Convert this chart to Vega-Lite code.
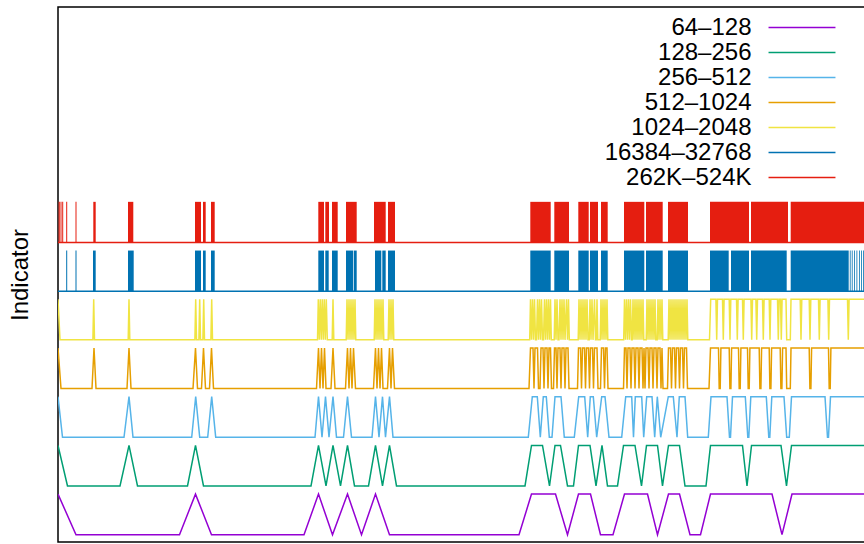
{
"$schema": "https://vega.github.io/schema/vega-lite/v6.json",
"width": 864, "height": 544,
"autosize": {"type": "fit", "contains": "padding"},
"padding": {"left": 8, "top": 7, "right": -2, "bottom": 2},
"background": "white",
"config": {"view": {"stroke": "black", "strokeWidth": 1.5}, "font": "Liberation Sans"},
"datasets": {
"B": [
{"k":6,"a":58.6,"b":59.8,"lo":7.2,"hi":8.2},{"k":6,"a":60.5,"b":61.5,"lo":7.2,"hi":8.2},{"k":6,"a":62.2,"b":63.2,"lo":7.2,"hi":8.2},{"k":6,"a":66.2,"b":67.2,"lo":7.2,"hi":8.2},{"k":6,"a":75.5,"b":76.5,"lo":7.2,"hi":8.2},{"k":6,"a":93.3,"b":95.7,"lo":7.2,"hi":8.2},{"k":6,"a":128,"b":133.3,"lo":7.2,"hi":8.2},{"k":6,"a":195,"b":201,"lo":7.2,"hi":8.2},{"k":6,"a":203,"b":205.7,"lo":7.2,"hi":8.2},{"k":6,"a":211,"b":214.7,"lo":7.2,"hi":8.2},{"k":6,"a":318.3,"b":324,"lo":7.2,"hi":8.2},{"k":6,"a":325.3,"b":329,"lo":7.2,"hi":8.2},{"k":6,"a":332,"b":337.7,"lo":7.2,"hi":8.2},{"k":6,"a":346,"b":356.7,"lo":7.2,"hi":8.2},{"k":6,"a":374,"b":385.7,"lo":7.2,"hi":8.2},{"k":6,"a":388,"b":395,"lo":7.2,"hi":8.2},{"k":6,"a":530.3,"b":550.7,"lo":7.2,"hi":8.2},{"k":6,"a":554.3,"b":569,"lo":7.2,"hi":8.2},{"k":6,"a":578.3,"b":588.7,"lo":7.2,"hi":8.2},{"k":6,"a":590,"b":598,"lo":7.2,"hi":8.2},{"k":6,"a":601,"b":607.7,"lo":7.2,"hi":8.2},{"k":6,"a":624,"b":644.3,"lo":7.2,"hi":8.2},{"k":6,"a":646,"b":662.7,"lo":7.2,"hi":8.2},{"k":6,"a":668,"b":688,"lo":7.2,"hi":8.2},{"k":6,"a":710,"b":749,"lo":7.2,"hi":8.2},{"k":6,"a":751,"b":788,"lo":7.2,"hi":8.2},{"k":6,"a":790.7,"b":866,"lo":7.2,"hi":8.2},
{"k":5,"a":66.2,"b":67.2,"lo":6.0,"hi":7.0},{"k":5,"a":75.5,"b":76.5,"lo":6.0,"hi":7.0},{"k":5,"a":93,"b":95.7,"lo":6.0,"hi":7.0},{"k":5,"a":128,"b":133.7,"lo":6.0,"hi":7.0},{"k":5,"a":195,"b":201,"lo":6.0,"hi":7.0},{"k":5,"a":203,"b":205.7,"lo":6.0,"hi":7.0},{"k":5,"a":211,"b":214.7,"lo":6.0,"hi":7.0},{"k":5,"a":318.3,"b":324,"lo":6.0,"hi":7.0},{"k":5,"a":325.3,"b":328.7,"lo":6.0,"hi":7.0},{"k":5,"a":332,"b":337.7,"lo":6.0,"hi":7.0},{"k":5,"a":346,"b":353.3,"lo":6.0,"hi":7.0},{"k":5,"a":354,"b":356.7,"lo":6.0,"hi":7.0},{"k":5,"a":375,"b":381.3,"lo":6.0,"hi":7.0},{"k":5,"a":382.3,"b":385.7,"lo":6.0,"hi":7.0},{"k":5,"a":388,"b":395,"lo":6.0,"hi":7.0},{"k":5,"a":530.3,"b":550.7,"lo":6.0,"hi":7.0},{"k":5,"a":554.3,"b":569,"lo":6.0,"hi":7.0},{"k":5,"a":578.3,"b":588.7,"lo":6.0,"hi":7.0},{"k":5,"a":590,"b":598,"lo":6.0,"hi":7.0},{"k":5,"a":601,"b":607.7,"lo":6.0,"hi":7.0},{"k":5,"a":624,"b":644.3,"lo":6.0,"hi":7.0},{"k":5,"a":646,"b":662.7,"lo":6.0,"hi":7.0},{"k":5,"a":668,"b":688,"lo":6.0,"hi":7.0},{"k":5,"a":710,"b":728.7,"lo":6.0,"hi":7.0},{"k":5,"a":731,"b":749,"lo":6.0,"hi":7.0},{"k":5,"a":751,"b":786.7,"lo":6.0,"hi":7.0},{"k":5,"a":790.7,"b":848.7,"lo":6.0,"hi":7.0},{"k":5,"a":849.8,"b":850.6,"lo":6.0,"hi":7.0},{"k":5,"a":851.8,"b":852.6,"lo":6.0,"hi":7.0},{"k":5,"a":854,"b":854.8,"lo":6.0,"hi":7.0},{"k":5,"a":856.5,"b":857.3,"lo":6.0,"hi":7.0},{"k":5,"a":859,"b":859.8,"lo":6.0,"hi":7.0},{"k":5,"a":861,"b":861.8,"lo":6.0,"hi":7.0},{"k":5,"a":863,"b":863.8,"lo":6.0,"hi":7.0}
],
"L": [
{"k":0,"t":58,"y":1},{"k":0,"t":76,"y":0},{"k":0,"t":179.5,"y":0},{"k":0,"t":195.5,"y":1},{"k":0,"t":211.5,"y":0},{"k":0,"t":304,"y":0},{"k":0,"t":318.5,"y":1},{"k":0,"t":332.5,"y":0},{"k":0,"t":347.5,"y":1},{"k":0,"t":361.5,"y":0},{"k":0,"t":375.5,"y":1},{"k":0,"t":389.5,"y":0},{"k":0,"t":519,"y":0},{"k":0,"t":531.5,"y":1},{"k":0,"t":555.5,"y":1},{"k":0,"t":567.5,"y":0},{"k":0,"t":578.5,"y":1},{"k":0,"t":590.5,"y":1},{"k":0,"t":600.5,"y":0},{"k":0,"t":613,"y":0},{"k":0,"t":624.5,"y":1},{"k":0,"t":647.5,"y":1},{"k":0,"t":657.5,"y":0},{"k":0,"t":668.5,"y":1},{"k":0,"t":679.5,"y":1},{"k":0,"t":690,"y":0},{"k":0,"t":700.5,"y":0},{"k":0,"t":710.5,"y":1},{"k":0,"t":772,"y":1},{"k":0,"t":782,"y":0},{"k":0,"t":792,"y":1},{"k":0,"t":866,"y":1},
{"k":1,"t":58,"y":2.2},{"k":1,"t":67.5,"y":1.2},{"k":1,"t":120,"y":1.2},{"k":1,"t":129,"y":2.2},{"k":1,"t":137.5,"y":1.2},{"k":1,"t":187.5,"y":1.2},{"k":1,"t":195.5,"y":2.2},{"k":1,"t":203.5,"y":1.2},{"k":1,"t":311,"y":1.2},{"k":1,"t":318.5,"y":2.2},{"k":1,"t":326,"y":1.2},{"k":1,"t":333,"y":2.2},{"k":1,"t":340.5,"y":1.2},{"k":1,"t":347.5,"y":2.2},{"k":1,"t":354.5,"y":1.2},{"k":1,"t":368.5,"y":1.2},{"k":1,"t":375.5,"y":2.2},{"k":1,"t":382.5,"y":1.2},{"k":1,"t":389.5,"y":2.2},{"k":1,"t":396.5,"y":1.2},{"k":1,"t":525,"y":1.2},{"k":1,"t":531.5,"y":2.2},{"k":1,"t":542.5,"y":2.2},{"k":1,"t":549.5,"y":1.2},{"k":1,"t":555,"y":2.2},{"k":1,"t":560.5,"y":2.2},{"k":1,"t":567.5,"y":1.2},{"k":1,"t":573.5,"y":1.2},{"k":1,"t":578.5,"y":2.2},{"k":1,"t":590,"y":2.2},{"k":1,"t":596,"y":1.2},{"k":1,"t":602,"y":2.2},{"k":1,"t":607.5,"y":1.2},{"k":1,"t":617.5,"y":1.2},{"k":1,"t":623.5,"y":2.2},{"k":1,"t":635,"y":2.2},{"k":1,"t":641.5,"y":1.2},{"k":1,"t":646.5,"y":2.2},{"k":1,"t":657.5,"y":2.2},{"k":1,"t":662.5,"y":1.2},{"k":1,"t":668.5,"y":2.2},{"k":1,"t":679.5,"y":2.2},{"k":1,"t":685,"y":1.2},{"k":1,"t":706,"y":1.2},{"k":1,"t":710.5,"y":2.2},{"k":1,"t":742.5,"y":2.2},{"k":1,"t":747,"y":1.2},{"k":1,"t":751.5,"y":2.2},{"k":1,"t":781,"y":2.2},{"k":1,"t":786.5,"y":1.2},{"k":1,"t":791.5,"y":2.2},{"k":1,"t":866,"y":2.2},
{"k":2,"t":58,"y":3.4},{"k":2,"t":62.5,"y":2.4},{"k":2,"t":124,"y":2.4},{"k":2,"t":129,"y":3.4},{"k":2,"t":133,"y":2.4},{"k":2,"t":191.7,"y":2.4},{"k":2,"t":195.7,"y":3.4},{"k":2,"t":199.7,"y":2.4},{"k":2,"t":207.7,"y":2.4},{"k":2,"t":211.7,"y":3.4},{"k":2,"t":215.7,"y":2.4},{"k":2,"t":315,"y":2.4},{"k":2,"t":318.5,"y":3.4},{"k":2,"t":322,"y":2.4},{"k":2,"t":325.5,"y":3.4},{"k":2,"t":329,"y":2.4},{"k":2,"t":333,"y":3.4},{"k":2,"t":336.5,"y":2.4},{"k":2,"t":343.5,"y":2.4},{"k":2,"t":347.5,"y":3.4},{"k":2,"t":351.5,"y":2.4},{"k":2,"t":372,"y":2.4},{"k":2,"t":375.5,"y":3.4},{"k":2,"t":379,"y":2.4},{"k":2,"t":382.5,"y":3.4},{"k":2,"t":385.5,"y":2.4},{"k":2,"t":389.5,"y":3.4},{"k":2,"t":393,"y":2.4},{"k":2,"t":528.3,"y":2.4},{"k":2,"t":532.3,"y":3.4},{"k":2,"t":537.3,"y":3.4},{"k":2,"t":540.3,"y":2.4},{"k":2,"t":543.3,"y":3.4},{"k":2,"t":546.3,"y":3.4},{"k":2,"t":549.3,"y":2.4},{"k":2,"t":552,"y":2.4},{"k":2,"t":555,"y":3.4},{"k":2,"t":561,"y":3.4},{"k":2,"t":564.3,"y":2.4},{"k":2,"t":574.3,"y":2.4},{"k":2,"t":578.7,"y":3.4},{"k":2,"t":584.7,"y":3.4},{"k":2,"t":587.7,"y":2.4},{"k":2,"t":590.3,"y":3.4},{"k":2,"t":593.3,"y":3.4},{"k":2,"t":596.7,"y":2.4},{"k":2,"t":601.7,"y":3.4},{"k":2,"t":605,"y":3.4},{"k":2,"t":609,"y":2.4},{"k":2,"t":621.7,"y":2.4},{"k":2,"t":625.7,"y":3.4},{"k":2,"t":631.7,"y":3.4},{"k":2,"t":633.5,"y":2.4},{"k":2,"t":635.3,"y":3.4},{"k":2,"t":641.7,"y":3.4},{"k":2,"t":643.7,"y":2.4},{"k":2,"t":646.7,"y":3.4},{"k":2,"t":652,"y":3.4},{"k":2,"t":654.7,"y":2.4},{"k":2,"t":657.3,"y":3.4},{"k":2,"t":660.7,"y":2.4},{"k":2,"t":668.3,"y":3.4},{"k":2,"t":673.3,"y":3.4},{"k":2,"t":677,"y":2.4},{"k":2,"t":679.3,"y":3.4},{"k":2,"t":685,"y":3.4},{"k":2,"t":687.7,"y":2.4},{"k":2,"t":708.3,"y":2.4},{"k":2,"t":711,"y":3.4},{"k":2,"t":727,"y":3.4},{"k":2,"t":729.5,"y":2.4},{"k":2,"t":730.5,"y":2.4},{"k":2,"t":732.5,"y":3.4},{"k":2,"t":745.3,"y":3.4},{"k":2,"t":747.8,"y":2.4},{"k":2,"t":748.8,"y":2.4},{"k":2,"t":750.8,"y":3.4},{"k":2,"t":766.3,"y":3.4},{"k":2,"t":768.8,"y":2.4},{"k":2,"t":769.8,"y":2.4},{"k":2,"t":771.8,"y":3.4},{"k":2,"t":784,"y":3.4},{"k":2,"t":786.7,"y":2.4},{"k":2,"t":789.3,"y":2.4},{"k":2,"t":791.5,"y":3.4},{"k":2,"t":825,"y":3.4},{"k":2,"t":827.5,"y":2.4},{"k":2,"t":828.5,"y":2.4},{"k":2,"t":830.5,"y":3.4},{"k":2,"t":866,"y":3.4},
{"k":3,"t":58,"y":4.6},{"k":3,"t":61,"y":3.6},{"k":3,"t":92,"y":3.6},{"k":3,"t":94,"y":4.6},{"k":3,"t":96,"y":3.6},{"k":3,"t":127,"y":3.6},{"k":3,"t":129,"y":4.6},{"k":3,"t":131,"y":3.6},{"k":3,"t":193,"y":3.6},{"k":3,"t":195.5,"y":4.6},{"k":3,"t":197.5,"y":3.6},{"k":3,"t":201.5,"y":3.6},{"k":3,"t":203.5,"y":4.6},{"k":3,"t":205.5,"y":3.6},{"k":3,"t":209.5,"y":3.6},{"k":3,"t":211.5,"y":4.6},{"k":3,"t":213.5,"y":3.6},{"k":3,"t":316.5,"y":3.6},{"k":3,"t":318.5,"y":4.6},{"k":3,"t":320,"y":3.6},{"k":3,"t":321.5,"y":4.6},{"k":3,"t":323,"y":3.6},{"k":3,"t":324.5,"y":4.6},{"k":3,"t":326,"y":3.6},{"k":3,"t":331,"y":3.6},{"k":3,"t":333,"y":4.6},{"k":3,"t":335,"y":3.6},{"k":3,"t":345.5,"y":3.6},{"k":3,"t":347.5,"y":4.6},{"k":3,"t":349,"y":3.6},{"k":3,"t":350.5,"y":4.6},{"k":3,"t":352,"y":3.6},{"k":3,"t":353.5,"y":4.6},{"k":3,"t":355.5,"y":3.6},{"k":3,"t":373.5,"y":3.6},{"k":3,"t":375.5,"y":4.6},{"k":3,"t":377,"y":3.6},{"k":3,"t":378.5,"y":4.6},{"k":3,"t":380,"y":3.6},{"k":3,"t":381.5,"y":4.6},{"k":3,"t":383,"y":3.6},{"k":3,"t":387.5,"y":3.6},{"k":3,"t":389.5,"y":4.6},{"k":3,"t":391,"y":3.6},{"k":3,"t":392.5,"y":4.6},{"k":3,"t":394.5,"y":3.6},
{"k":3,"t":529,"y":3.6},{"k":3,"t":530.5,"y":4.6},{"k":3,"t":533,"y":4.6},{"k":3,"t":534,"y":3.6},{"k":3,"t":535,"y":4.6},{"k":3,"t":537.5,"y":4.6},{"k":3,"t":538.5,"y":3.6},{"k":3,"t":540,"y":3.6},{"k":3,"t":541,"y":4.6},{"k":3,"t":543,"y":4.6},{"k":3,"t":544,"y":3.6},{"k":3,"t":545,"y":4.6},{"k":3,"t":547,"y":4.6},{"k":3,"t":548,"y":3.6},{"k":3,"t":549,"y":4.6},{"k":3,"t":550.5,"y":4.6},{"k":3,"t":551.5,"y":3.6},{"k":3,"t":553.5,"y":3.6},{"k":3,"t":554.5,"y":4.6},{"k":3,"t":556,"y":4.6},{"k":3,"t":557,"y":3.6},{"k":3,"t":558,"y":4.6},{"k":3,"t":560,"y":4.6},{"k":3,"t":561,"y":3.6},{"k":3,"t":562,"y":4.6},{"k":3,"t":564,"y":4.6},{"k":3,"t":565,"y":3.6},{"k":3,"t":566,"y":4.6},{"k":3,"t":568,"y":4.6},{"k":3,"t":569,"y":3.6},{"k":3,"t":577.5,"y":3.6},{"k":3,"t":578.5,"y":4.6},{"k":3,"t":580.5,"y":4.6},{"k":3,"t":581.5,"y":3.6},{"k":3,"t":582.5,"y":4.6},{"k":3,"t":584.5,"y":4.6},{"k":3,"t":585.5,"y":3.6},{"k":3,"t":586.5,"y":4.6},{"k":3,"t":588.5,"y":4.6},{"k":3,"t":589.5,"y":3.6},{"k":3,"t":590.5,"y":4.6},{"k":3,"t":592.5,"y":4.6},{"k":3,"t":593.5,"y":3.6},{"k":3,"t":594.5,"y":4.6},{"k":3,"t":597,"y":4.6},{"k":3,"t":598,"y":3.6},{"k":3,"t":600.5,"y":3.6},{"k":3,"t":601.5,"y":4.6},{"k":3,"t":603.5,"y":4.6},{"k":3,"t":604.5,"y":3.6},{"k":3,"t":605.5,"y":4.6},{"k":3,"t":607,"y":4.6},{"k":3,"t":608,"y":3.6},{"k":3,"t":623.5,"y":3.6},{"k":3,"t":624.5,"y":4.6},{"k":3,"t":626,"y":4.6},{"k":3,"t":627,"y":3.6},{"k":3,"t":628,"y":4.6},{"k":3,"t":630,"y":4.6},{"k":3,"t":631,"y":3.6},{"k":3,"t":632,"y":4.6},{"k":3,"t":634,"y":4.6},{"k":3,"t":635,"y":3.6},{"k":3,"t":636,"y":4.6},{"k":3,"t":638,"y":4.6},{"k":3,"t":639,"y":3.6},{"k":3,"t":640,"y":4.6},{"k":3,"t":642,"y":4.6},{"k":3,"t":643,"y":3.6},{"k":3,"t":644,"y":4.6},{"k":3,"t":645,"y":3.6},{"k":3,"t":646,"y":4.6},{"k":3,"t":648,"y":4.6},{"k":3,"t":649,"y":3.6},{"k":3,"t":650,"y":4.6},{"k":3,"t":652,"y":4.6},{"k":3,"t":653,"y":3.6},{"k":3,"t":654,"y":4.6},{"k":3,"t":656,"y":4.6},{"k":3,"t":657,"y":3.6},{"k":3,"t":658,"y":4.6},{"k":3,"t":660,"y":4.6},{"k":3,"t":661,"y":3.6},{"k":3,"t":662,"y":4.6},{"k":3,"t":663,"y":3.6},{"k":3,"t":667.5,"y":3.6},{"k":3,"t":668.5,"y":4.6},{"k":3,"t":670.5,"y":4.6},{"k":3,"t":671.5,"y":3.6},{"k":3,"t":672.5,"y":4.6},{"k":3,"t":674.5,"y":4.6},{"k":3,"t":675.5,"y":3.6},{"k":3,"t":676.5,"y":4.6},{"k":3,"t":678.5,"y":4.6},{"k":3,"t":679.5,"y":3.6},{"k":3,"t":680.5,"y":4.6},{"k":3,"t":682.5,"y":4.6},{"k":3,"t":683.5,"y":3.6},{"k":3,"t":684.5,"y":4.6},{"k":3,"t":686.5,"y":4.6},{"k":3,"t":687.5,"y":3.6},
{"k":3,"t":709,"y":3.6},{"k":3,"t":710.5,"y":4.6},{"k":3,"t":718.5,"y":4.6},{"k":3,"t":719.2,"y":3.6},{"k":3,"t":720.2,"y":3.6},{"k":3,"t":720.9,"y":4.6},{"k":3,"t":729.2,"y":4.6},{"k":3,"t":729.9,"y":3.6},{"k":3,"t":730.9,"y":3.6},{"k":3,"t":731.6,"y":4.6},{"k":3,"t":738.5,"y":4.6},{"k":3,"t":739.2,"y":3.6},{"k":3,"t":740.2,"y":3.6},{"k":3,"t":740.9,"y":4.6},{"k":3,"t":747.5,"y":4.6},{"k":3,"t":748.2,"y":3.6},{"k":3,"t":749.2,"y":3.6},{"k":3,"t":749.9,"y":4.6},{"k":3,"t":759.2,"y":4.6},{"k":3,"t":759.9,"y":3.6},{"k":3,"t":760.9,"y":3.6},{"k":3,"t":761.6,"y":4.6},{"k":3,"t":769.2,"y":4.6},{"k":3,"t":769.9,"y":3.6},{"k":3,"t":770.9,"y":3.6},{"k":3,"t":771.6,"y":4.6},{"k":3,"t":780.2,"y":4.6},{"k":3,"t":780.9,"y":3.6},{"k":3,"t":781.9,"y":3.6},{"k":3,"t":782.6,"y":4.6},{"k":3,"t":786,"y":4.6},{"k":3,"t":786.7,"y":3.6},{"k":3,"t":790.3,"y":3.6},{"k":3,"t":791,"y":4.6},{"k":3,"t":809.2,"y":4.6},{"k":3,"t":809.9,"y":3.6},{"k":3,"t":810.9,"y":3.6},{"k":3,"t":811.6,"y":4.6},{"k":3,"t":828.5,"y":4.6},{"k":3,"t":829.2,"y":3.6},{"k":3,"t":830.2,"y":3.6},{"k":3,"t":830.9,"y":4.6},{"k":3,"t":866,"y":4.6},
{"k":4,"t":58,"y":5.8},{"k":4,"t":60,"y":4.8},{"k":4,"t":92.9,"y":4.8},{"k":4,"t":93.7,"y":5.8},{"k":4,"t":94.5,"y":4.8},{"k":4,"t":128.2,"y":4.8},{"k":4,"t":129,"y":5.8},{"k":4,"t":129.8,"y":4.8},{"k":4,"t":194.9,"y":4.8},{"k":4,"t":195.7,"y":5.8},{"k":4,"t":196.5,"y":4.8},{"k":4,"t":198.9,"y":4.8},{"k":4,"t":199.7,"y":5.8},{"k":4,"t":200.5,"y":4.8},{"k":4,"t":202.9,"y":4.8},{"k":4,"t":203.7,"y":5.8},{"k":4,"t":204.5,"y":4.8},{"k":4,"t":210.9,"y":4.8},{"k":4,"t":211.7,"y":5.8},{"k":4,"t":212.5,"y":4.8},
{"k":4,"t":317.5,"y":4.8},{"k":4,"t":318.3,"y":5.8},{"k":4,"t":319.3,"y":4.8},{"k":4,"t":320.3,"y":5.8},{"k":4,"t":321.3,"y":4.8},{"k":4,"t":322.3,"y":5.8},{"k":4,"t":323.3,"y":4.8},{"k":4,"t":324.3,"y":5.8},{"k":4,"t":325.3,"y":4.8},{"k":4,"t":326.3,"y":5.8},{"k":4,"t":327.3,"y":4.8},{"k":4,"t":332.2,"y":4.8},{"k":4,"t":333,"y":5.8},{"k":4,"t":333.8,"y":4.8},{"k":4,"t":346.2,"y":4.8},{"k":4,"t":347,"y":5.8},{"k":4,"t":348,"y":4.8},{"k":4,"t":349,"y":5.8},{"k":4,"t":350,"y":4.8},{"k":4,"t":351,"y":5.8},{"k":4,"t":352,"y":4.8},{"k":4,"t":353,"y":5.8},{"k":4,"t":354,"y":4.8},{"k":4,"t":355,"y":5.8},{"k":4,"t":355.8,"y":4.8},{"k":4,"t":374.2,"y":4.8},{"k":4,"t":375,"y":5.8},{"k":4,"t":376,"y":4.8},{"k":4,"t":377,"y":5.8},{"k":4,"t":378,"y":4.8},{"k":4,"t":379,"y":5.8},{"k":4,"t":380,"y":4.8},{"k":4,"t":381,"y":5.8},{"k":4,"t":382,"y":4.8},{"k":4,"t":383,"y":5.8},{"k":4,"t":383.8,"y":4.8},{"k":4,"t":388.2,"y":4.8},{"k":4,"t":389,"y":5.8},{"k":4,"t":390,"y":4.8},{"k":4,"t":391,"y":5.8},{"k":4,"t":392,"y":4.8},{"k":4,"t":393,"y":5.8},{"k":4,"t":393.8,"y":4.8},
{"k":4,"t":529.7,"y":4.8},{"k":4,"t":530.5,"y":5.8},{"k":4,"t":531.5,"y":4.8},{"k":4,"t":532.5,"y":5.8},{"k":4,"t":533.5,"y":4.8},{"k":4,"t":534.5,"y":5.8},{"k":4,"t":535.5,"y":4.8},{"k":4,"t":536.5,"y":4.8},{"k":4,"t":537.5,"y":5.8},{"k":4,"t":538.5,"y":4.8},{"k":4,"t":539.5,"y":5.8},{"k":4,"t":540.5,"y":4.8},{"k":4,"t":541.5,"y":5.8},{"k":4,"t":542.5,"y":4.8},{"k":4,"t":543.5,"y":4.8},{"k":4,"t":544.5,"y":5.8},{"k":4,"t":545.5,"y":4.8},{"k":4,"t":546.5,"y":5.8},{"k":4,"t":547.5,"y":4.8},{"k":4,"t":548.5,"y":5.8},{"k":4,"t":549.5,"y":4.8},{"k":4,"t":550.5,"y":5.8},{"k":4,"t":551.3,"y":4.8},
{"k":4,"t":554.2,"y":4.8},{"k":4,"t":555,"y":5.8},{"k":4,"t":556,"y":4.8},{"k":4,"t":557,"y":5.8},{"k":4,"t":558,"y":4.8},{"k":4,"t":559,"y":4.8},{"k":4,"t":560,"y":5.8},{"k":4,"t":561,"y":4.8},{"k":4,"t":562,"y":5.8},{"k":4,"t":563,"y":4.8},{"k":4,"t":564,"y":5.8},{"k":4,"t":565,"y":4.8},{"k":4,"t":566.5,"y":5.8},{"k":4,"t":567.5,"y":4.8},{"k":4,"t":568.5,"y":5.8},{"k":4,"t":569.3,"y":4.8},
{"k":4,"t":578.2,"y":4.8},{"k":4,"t":579,"y":5.8},{"k":4,"t":580,"y":4.8},{"k":4,"t":581,"y":5.8},{"k":4,"t":582,"y":4.8},{"k":4,"t":583,"y":5.8},{"k":4,"t":584,"y":4.8},{"k":4,"t":585,"y":5.8},{"k":4,"t":586,"y":4.8},{"k":4,"t":587,"y":5.8},{"k":4,"t":588,"y":4.8},{"k":4,"t":589.2,"y":4.8},{"k":4,"t":590,"y":5.8},{"k":4,"t":591,"y":4.8},{"k":4,"t":592,"y":5.8},{"k":4,"t":593,"y":4.8},{"k":4,"t":594.5,"y":5.8},{"k":4,"t":595.5,"y":4.8},{"k":4,"t":596.2,"y":4.8},{"k":4,"t":597,"y":5.8},{"k":4,"t":597.8,"y":4.8},{"k":4,"t":600.2,"y":4.8},{"k":4,"t":601,"y":5.8},{"k":4,"t":602,"y":4.8},{"k":4,"t":603,"y":5.8},{"k":4,"t":604,"y":4.8},{"k":4,"t":605,"y":5.8},{"k":4,"t":606,"y":4.8},{"k":4,"t":607,"y":5.8},{"k":4,"t":607.8,"y":4.8},
{"k":4,"t":623.7,"y":4.8},{"k":4,"t":624.5,"y":5.8},{"k":4,"t":625.5,"y":4.8},{"k":4,"t":626.5,"y":5.8},{"k":4,"t":627.5,"y":4.8},{"k":4,"t":628.5,"y":5.8},{"k":4,"t":629.5,"y":4.8},{"k":4,"t":630.5,"y":5.8},{"k":4,"t":631.5,"y":4.8},{"k":4,"t":632.2,"y":4.8},{"k":4,"t":633,"y":5.8},{"k":4,"t":634,"y":4.8},{"k":4,"t":635,"y":5.8},{"k":4,"t":636,"y":4.8},{"k":4,"t":637,"y":5.8},{"k":4,"t":638,"y":4.8},{"k":4,"t":639,"y":5.8},{"k":4,"t":640,"y":4.8},{"k":4,"t":641,"y":5.8},{"k":4,"t":642,"y":4.8},{"k":4,"t":643,"y":5.8},{"k":4,"t":643.8,"y":4.8},
{"k":4,"t":646.2,"y":4.8},{"k":4,"t":647,"y":5.8},{"k":4,"t":648,"y":4.8},{"k":4,"t":649,"y":5.8},{"k":4,"t":650,"y":4.8},{"k":4,"t":651,"y":5.8},{"k":4,"t":652,"y":4.8},{"k":4,"t":653,"y":5.8},{"k":4,"t":654,"y":4.8},{"k":4,"t":655,"y":5.8},{"k":4,"t":655.8,"y":4.8},{"k":4,"t":657.2,"y":4.8},{"k":4,"t":658,"y":5.8},{"k":4,"t":659,"y":4.8},{"k":4,"t":660,"y":5.8},{"k":4,"t":661,"y":4.8},{"k":4,"t":662,"y":5.8},{"k":4,"t":662.8,"y":4.8},
{"k":4,"t":668.2,"y":4.8},{"k":4,"t":669,"y":5.8},{"k":4,"t":670,"y":4.8},{"k":4,"t":671,"y":5.8},{"k":4,"t":672,"y":4.8},{"k":4,"t":673,"y":5.8},{"k":4,"t":674,"y":4.8},{"k":4,"t":675,"y":5.8},{"k":4,"t":676,"y":4.8},{"k":4,"t":677,"y":5.8},{"k":4,"t":678,"y":4.8},{"k":4,"t":679,"y":5.8},{"k":4,"t":680,"y":4.8},{"k":4,"t":681,"y":5.8},{"k":4,"t":682,"y":4.8},{"k":4,"t":683,"y":5.8},{"k":4,"t":684,"y":4.8},{"k":4,"t":685,"y":5.8},{"k":4,"t":686,"y":4.8},{"k":4,"t":687,"y":5.8},{"k":4,"t":687.8,"y":4.8},
{"k":4,"t":709.5,"y":4.8},{"k":4,"t":710.7,"y":5.8},{"k":4,"t":715.9,"y":5.8},{"k":4,"t":716.7,"y":4.8},{"k":4,"t":717.5,"y":5.8},{"k":4,"t":722.5,"y":5.8},{"k":4,"t":723.3,"y":4.8},{"k":4,"t":724.1,"y":5.8},{"k":4,"t":729.2,"y":5.8},{"k":4,"t":730,"y":4.8},{"k":4,"t":730.8,"y":5.8},{"k":4,"t":736.5,"y":5.8},{"k":4,"t":737.3,"y":4.8},{"k":4,"t":738.1,"y":5.8},{"k":4,"t":742.5,"y":5.8},{"k":4,"t":743.3,"y":4.8},{"k":4,"t":744.1,"y":5.8},{"k":4,"t":750.9,"y":5.8},{"k":4,"t":751.7,"y":4.8},{"k":4,"t":752.5,"y":5.8},{"k":4,"t":755.9,"y":5.8},{"k":4,"t":756.7,"y":4.8},{"k":4,"t":757.5,"y":5.8},{"k":4,"t":762.5,"y":5.8},{"k":4,"t":763.3,"y":4.8},{"k":4,"t":764.1,"y":5.8},{"k":4,"t":769.2,"y":5.8},{"k":4,"t":770,"y":4.8},{"k":4,"t":770.8,"y":5.8},{"k":4,"t":777.5,"y":5.8},{"k":4,"t":778.3,"y":4.8},{"k":4,"t":779.1,"y":5.8},{"k":4,"t":780.5,"y":5.8},{"k":4,"t":781.3,"y":4.8},{"k":4,"t":782.1,"y":5.8},{"k":4,"t":786,"y":5.8},{"k":4,"t":786.7,"y":4.8},{"k":4,"t":790.3,"y":4.8},{"k":4,"t":791,"y":5.8},{"k":4,"t":800.2,"y":5.8},{"k":4,"t":801,"y":4.8},{"k":4,"t":801.8,"y":5.8},{"k":4,"t":809.2,"y":5.8},{"k":4,"t":810,"y":4.8},{"k":4,"t":810.8,"y":5.8},{"k":4,"t":818.5,"y":5.8},{"k":4,"t":819.3,"y":4.8},{"k":4,"t":820.1,"y":5.8},{"k":4,"t":827.9,"y":5.8},{"k":4,"t":828.7,"y":4.8},{"k":4,"t":829.5,"y":5.8},{"k":4,"t":847.5,"y":5.8},{"k":4,"t":848.3,"y":4.8},{"k":4,"t":849.1,"y":5.8},{"k":4,"t":866,"y":5.8},
{"k":5,"t":58,"y":6.0},{"k":5,"t":866,"y":6.0},
{"k":6,"t":58,"y":7.2},{"k":6,"t":866,"y":7.2}
]
},
"layer": [
{
"data": {"name": "B"},
"mark": {"type": "rect", "clip": true},
"encoding": {
"x": {"field": "a", "type": "quantitative", "scale": {"domain": [58, 866], "nice": false, "zero": false}, "axis": null},
"x2": {"field": "b"},
"y": {"field": "hi", "type": "quantitative", "scale": {"domain": [-0.18, 13], "nice": false, "zero": false},
"axis": {"title": "Indicator", "labels": false, "ticks": false, "domain": false, "grid": false, "titleFontSize": 24, "titleFont": "Liberation Sans", "titleFontWeight": "normal", "titleColor": "black", "titlePadding": 26}},
"y2": {"field": "lo"},
"color": {"field": "k", "type": "nominal", "scale": {"domain": [0,1,2,3,4,5,6], "range": ["#9400D3","#009E73","#56B4E9","#E69F00","#F0E442","#0072B2","#E51E10"]}}
}
},
{
"data": {"name": "L"},
"mark": {"type": "line", "strokeWidth": 1.5, "clip": true},
"encoding": {
"x": {"field": "t", "type": "quantitative"},
"y": {"field": "y", "type": "quantitative"},
"color": {"field": "k", "type": "nominal",
"legend": {"orient": "none", "legendX": 732, "legendY": 8.5, "title": null, "symbolType": "M-4,0H4", "symbolSize": 280, "symbolStrokeWidth": 1.5, "symbolFillColor": "transparent", "labelFontSize": 24, "labelFont": "Liberation Sans", "labelColor": "black", "labelAlign": "right", "labelOffset": -62.5, "rowPadding": 1, "padding": 0,
"labelExpr": "['64–128','128–256','256–512','512–1024','1024–2048','16384–32768','262K–524K'][datum.value]"}}
}
}
]
}
